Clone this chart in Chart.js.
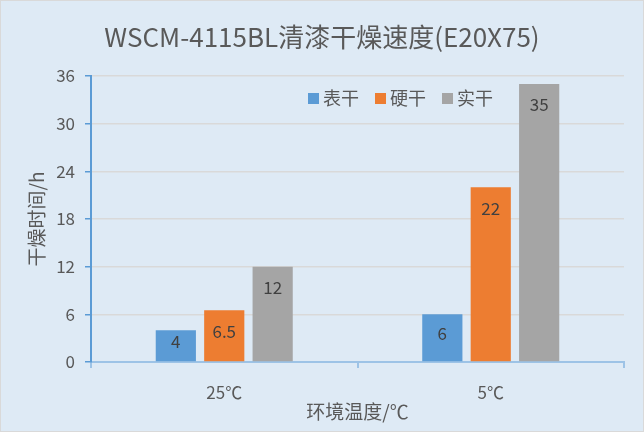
<!DOCTYPE html>
<html>
<head>
<meta charset="utf-8">
<script src="https://cdn.jsdelivr.net/npm/chart.js@4"></script>
<style>
  html, body { margin: 0; padding: 0; background: #fff; }
  #wrap { width: 644px; height: 432px; box-sizing: border-box; border: 1px solid #D9D9D9; background: #DEEAF5; }
</style>
</head>
<body>
<div id="wrap"><canvas id="dryChart" width="642" height="430"></canvas></div>
<script>
const categories = ['25℃', '5℃'];
const seriesNames = ['表干', '硬干', '实干'];
const surfaceDry = [4, 6];
const hardDry = [6.5, 22];
const fullDry = [12, 35];
const yTicks = [0, 6, 12, 18, 24, 30, 36];
const chartTitle = 'WSCM-4115BL清漆干燥速度(E20X75)';

const FONT = '"Microsoft YaHei", "Noto Sans CJK SC", "Noto Sans", sans-serif';
const TEXT = '#595959';

// title centred over the whole canvas, not the padded area
const topTitle = {
    id: 'topTitle',
    afterDraw(chart) {
        const ctx = chart.ctx;
        ctx.save();
        ctx.font = '26px ' + FONT;
        ctx.fillStyle = TEXT;
        ctx.textAlign = 'center';
        ctx.textBaseline = 'middle';
        ctx.fillText(chartTitle, chart.width / 2, 36);
        ctx.restore();
    }
};

// values inside the top of each bar
const barLabels = {
    id: 'barLabels',
    afterDatasetsDraw(chart) {
        const ctx = chart.ctx;
        ctx.save();
        ctx.font = '17px ' + FONT;
        ctx.fillStyle = '#404040';
        ctx.textAlign = 'center';
        ctx.textBaseline = 'middle';
        chart.data.datasets.forEach((ds, i) => {
            chart.getDatasetMeta(i).data.forEach((bar, j) => {
                const y = Math.min(bar.y + 21, (bar.y + bar.base) / 2 - 4);
                ctx.fillText(String(ds.data[j]), bar.x, y);
            });
        });
        ctx.restore();
    }
};

// legend sits inside the plot area
const innerLegend = {
    id: 'innerLegend',
    afterDraw(chart) {
        const ctx = chart.ctx;
        const xs = [307, 374, 441];
        ctx.save();
        ctx.font = '18px ' + FONT;
        ctx.textBaseline = 'middle';
        chart.data.datasets.forEach((ds, i) => {
            ctx.fillStyle = ds.backgroundColor;
            ctx.fillRect(xs[i], 92, 11, 11);
            ctx.fillStyle = TEXT;
            ctx.fillText(ds.label, xs[i] + 15, 97);
        });
        ctx.restore();
    }
};

document.addEventListener('DOMContentLoaded', function () {
    const ctx = document.getElementById('dryChart').getContext('2d');
    new Chart(ctx, {
        type: 'bar',
        data: {
            labels: categories,
            datasets: [
                { label: seriesNames[0], data: surfaceDry, backgroundColor: '#5B9BD5' },
                { label: seriesNames[1], data: hardDry, backgroundColor: '#ED7D31' },
                { label: seriesNames[2], data: fullDry, backgroundColor: '#A5A5A5' }
            ]
        },
        options: {
            responsive: false,
            animation: false,
            categoryPercentage: 0.545,
            barPercentage: 0.83,
            layout: { padding: { left: 0, right: 19, top: 75, bottom: 0 } },
            plugins: {
                legend: { display: false },
                tooltip: { enabled: false },
                title: { display: false }
            },
            scales: {
                x: {
                    afterFit(scale) { scale.height = 69; },
                    grid: {
                        offset: true,
                        drawOnChartArea: false,
                        tickColor: '#9DC3E6',
                        tickLength: 6,
                        lineWidth: 2
                    },
                    border: { color: '#9DC3E6', width: 2 },
                    ticks: { color: TEXT, font: { family: FONT, size: 17 }, padding: 14 },
                    title: {
                        display: true,
                        text: '环境温度/℃',
                        color: TEXT,
                        font: { family: FONT, size: 19 },
                        padding: { top: 0, bottom: 8 }
                    }
                },
                y: {
                    min: 0,
                    max: 36,
                    afterBuildTicks(scale) {
                        scale.ticks = yTicks.map(v => ({ value: v }));
                    },
                    afterFit(scale) { scale.width = 90; },
                    grid: {
                        color: c => c.tick && c.tick.value === 0 ? 'rgba(0,0,0,0)' : '#D9D9D9',
                        tickColor: '#5B9BD5',
                        tickLength: 6,
                        lineWidth: 1.5
                    },
                    border: { color: '#5B9BD5', width: 2 },
                    ticks: { color: TEXT, font: { family: FONT, size: 17 }, padding: 10 },
                    title: {
                        display: true,
                        text: '干燥时间/h',
                        color: TEXT,
                        font: { family: FONT, size: 19 },
                        padding: { top: 24, bottom: 0 }
                    }
                }
            }
        },
        plugins: [topTitle, barLabels, innerLegend]
    });
});
</script>
</body>
</html>
